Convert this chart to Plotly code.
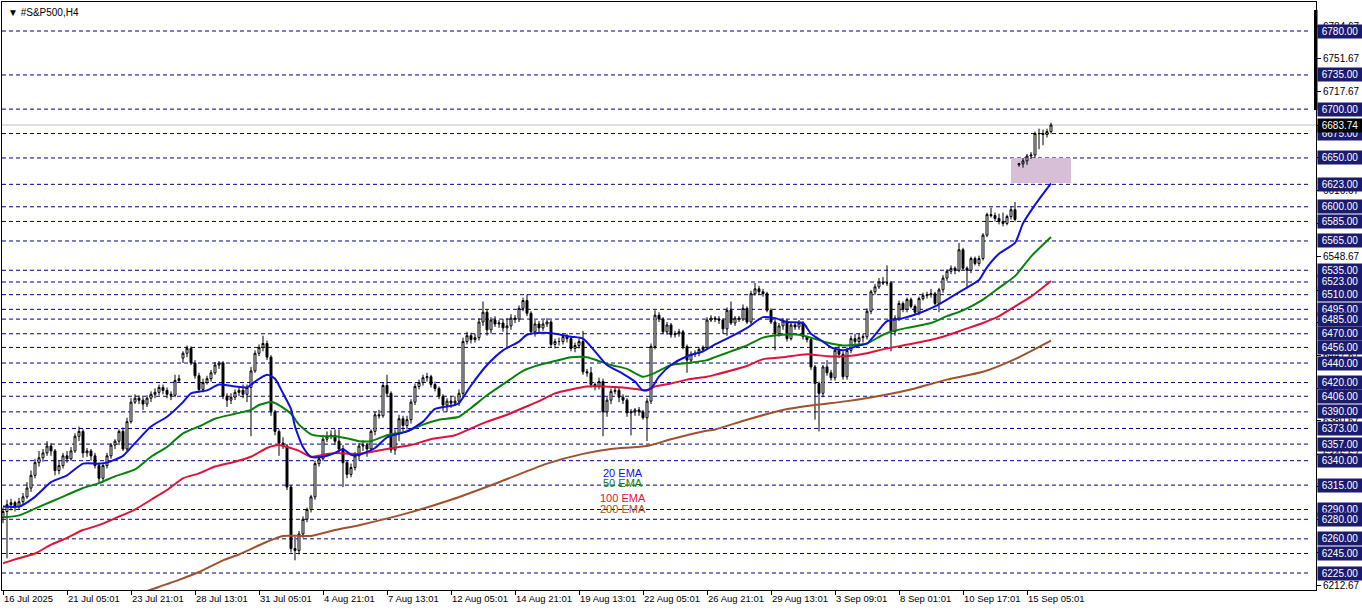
import plotly.graph_objects as go

# ---------------- data ----------------
opens = [6282, 6288, 6295, 6297, 6293, 6298, 6303, 6312, 6325, 6338,
         6343, 6348, 6355, 6350, 6330, 6335, 6345, 6342, 6350, 6365,
         6370, 6348, 6350, 6345, 6335, 6322, 6335, 6345, 6356, 6360,
         6370, 6352, 6380, 6400, 6404, 6402, 6398, 6404, 6408, 6410,
         6415, 6412, 6408, 6407, 6422, 6445, 6450, 6455, 6440, 6427,
         6413, 6420, 6424, 6430, 6438, 6440, 6406, 6402, 6405, 6410,
         6412, 6408, 6415, 6432, 6450, 6456, 6460, 6446, 6390, 6370,
         6358, 6355, 6313, 6250, 6248, 6265, 6280, 6290, 6303, 6337,
         6342, 6362, 6365, 6366, 6360, 6352, 6338, 6326, 6333, 6345,
         6355, 6356, 6352, 6370, 6387, 6386, 6417, 6409, 6351, 6368,
         6383, 6376, 6382, 6400, 6416, 6420, 6425, 6426, 6418, 6414,
         6406, 6397, 6401, 6399, 6401, 6409, 6462, 6468, 6464, 6466,
         6482, 6492, 6474, 6484, 6480, 6481, 6476, 6478, 6486, 6485,
         6496, 6504, 6491, 6472, 6480, 6476, 6480, 6482, 6459, 6462,
         6462, 6467, 6465, 6455, 6458, 6462, 6431, 6430, 6418, 6416,
         6421, 6390, 6402, 6411, 6412, 6405, 6402, 6389, 6390, 6392,
         6390, 6384, 6401, 6457, 6489, 6485, 6472, 6479, 6469, 6470,
         6472, 6457, 6443, 6449, 6450, 6454, 6456, 6484, 6486, 6485,
         6484, 6475, 6494, 6481, 6486, 6485, 6496, 6482, 6511, 6516,
         6513, 6511, 6494, 6482, 6470, 6478, 6483, 6465, 6479, 6477,
         6481, 6467, 6464, 6436, 6419, 6409, 6436, 6430, 6425, 6453,
         6449, 6426, 6453, 6465, 6462, 6466, 6467, 6493, 6513, 6518,
         6523, 6522, 6522, 6472, 6486, 6501, 6495, 6505, 6498, 6492,
         6506, 6509, 6510, 6511, 6501, 6515, 6527, 6534, 6537, 6535,
         6556, 6537, 6535, 6547, 6542, 6547, 6571, 6592, 6591, 6588,
         6585, 6583, 6590, 6597, 6643, 6644, 6647, 6652, 6653, 6675,
         6675, 6674, 6677]

highs = [6292, 6300, 6301, 6299, 6302, 6307, 6318, 6330, 6342, 6350,
         6352, 6360, 6358, 6352, 6340, 6348, 6350, 6354, 6368, 6375,
         6372, 6353, 6352, 6348, 6338, 6338, 6348, 6358, 6362, 6372,
         6374, 6384, 6404, 6408, 6407, 6405, 6407, 6411, 6414, 6418,
         6418, 6415, 6411, 6428, 6428, 6452, 6458, 6457, 6443, 6430,
         6424, 6427, 6433, 6441, 6442, 6442, 6409, 6409, 6413, 6415,
         6418, 6418, 6436, 6453, 6459, 6468, 6463, 6448, 6392, 6372,
         6364, 6357, 6315, 6262, 6268, 6283, 6292, 6305, 6340, 6345,
         6366, 6370, 6371, 6372, 6372, 6356, 6340, 6337, 6349, 6358,
         6361, 6358, 6372, 6390, 6392, 6420, 6428, 6411, 6372, 6387,
         6386, 6386, 6403, 6419, 6423, 6428, 6430, 6428, 6421, 6416,
         6408, 6404, 6406, 6406, 6413, 6466, 6472, 6471, 6470, 6486,
         6503, 6495, 6487, 6488, 6484, 6485, 6486, 6490, 6489, 6499,
         6507, 6510, 6493, 6484, 6483, 6484, 6486, 6484, 6465, 6466,
         6470, 6470, 6467, 6461, 6465, 6473, 6434, 6436, 6420, 6425,
         6424, 6405, 6414, 6416, 6415, 6408, 6404, 6393, 6394, 6395,
         6392, 6404, 6460, 6494, 6492, 6487, 6482, 6481, 6473, 6475,
         6474, 6459, 6452, 6453, 6456, 6458, 6487, 6489, 6488, 6488,
         6486, 6497, 6503, 6488, 6488, 6500, 6498, 6514, 6522, 6519,
         6516, 6513, 6496, 6484, 6481, 6486, 6485, 6482, 6481, 6484,
         6483, 6468, 6466, 6438, 6421, 6438, 6443, 6433, 6456, 6458,
         6452, 6456, 6468, 6470, 6470, 6470, 6496, 6515, 6521, 6527,
         6528, 6540, 6524, 6489, 6504, 6503, 6507, 6507, 6500, 6508,
         6512, 6513, 6516, 6513, 6517, 6530, 6536, 6540, 6539, 6563,
         6558, 6539, 6549, 6549, 6550, 6573, 6594, 6599, 6594, 6593,
         6594, 6592, 6600, 6605, 6645, 6650, 6654, 6656, 6677, 6680,
         6679, 6680, 6686]

lows = [6276, 6240, 6289, 6288, 6290, 6295, 6301, 6308, 6322, 6334,
        6339, 6345, 6345, 6325, 6326, 6332, 6338, 6340, 6348, 6360,
        6343, 6344, 6340, 6332, 6318, 6318, 6332, 6342, 6352, 6356,
        6350, 6350, 6378, 6398, 6398, 6392, 6395, 6400, 6404, 6407,
        6408, 6404, 6402, 6405, 6420, 6440, 6446, 6438, 6424, 6410,
        6410, 6418, 6421, 6428, 6434, 6403, 6395, 6398, 6402, 6406,
        6404, 6400, 6365, 6430, 6447, 6452, 6443, 6386, 6366, 6345,
        6352, 6310, 6246, 6238, 6244, 6261, 6277, 6287, 6300, 6334,
        6340, 6359, 6362, 6356, 6348, 6313, 6322, 6323, 6330, 6340,
        6350, 6344, 6350, 6366, 6383, 6384, 6405, 6348, 6346, 6360,
        6370, 6372, 6378, 6397, 6413, 6417, 6421, 6415, 6411, 6403,
        6391, 6390, 6394, 6396, 6396, 6405, 6459, 6460, 6461, 6463,
        6478, 6468, 6470, 6477, 6476, 6472, 6455, 6474, 6481, 6482,
        6493, 6488, 6469, 6467, 6470, 6473, 6477, 6456, 6455, 6458,
        6459, 6461, 6452, 6451, 6455, 6428, 6426, 6415, 6412, 6413,
        6365, 6385, 6398, 6408, 6400, 6398, 6385, 6366, 6386, 6386,
        6382, 6360, 6398, 6454, 6482, 6470, 6469, 6466, 6466, 6467,
        6454, 6430, 6440, 6446, 6447, 6451, 6454, 6482, 6482, 6480,
        6470, 6468, 6479, 6478, 6482, 6483, 6480, 6480, 6509, 6510,
        6508, 6492, 6480, 6453, 6467, 6474, 6462, 6463, 6474, 6474,
        6464, 6461, 6433, 6382, 6370, 6405, 6427, 6422, 6422, 6445,
        6423, 6423, 6450, 6458, 6459, 6461, 6464, 6490, 6510, 6516,
        6520, 6519, 6452, 6468, 6483, 6492, 6492, 6496, 6489, 6489,
        6504, 6506, 6507, 6499, 6492, 6512, 6524, 6531, 6531, 6533,
        6535, 6518, 6532, 6540, 6539, 6545, 6569, 6589, 6585, 6582,
        6580, 6581, 6587, 6585, 6641, 6640, 6643, 6649, 6650, 6659,
        6663, 6671, 6675]

closes = [6288, 6295, 6297, 6293, 6298, 6303, 6312, 6325, 6338, 6343,
          6348, 6355, 6350, 6330, 6335, 6345, 6342, 6350, 6365, 6370,
          6348, 6350, 6345, 6335, 6322, 6335, 6345, 6356, 6360, 6370,
          6352, 6380, 6400, 6404, 6402, 6398, 6404, 6408, 6410, 6415,
          6412, 6408, 6407, 6422, 6424, 6450, 6455, 6440, 6427, 6413,
          6420, 6424, 6430, 6438, 6440, 6406, 6402, 6405, 6410, 6412,
          6408, 6415, 6432, 6450, 6456, 6460, 6446, 6390, 6370, 6358,
          6355, 6313, 6250, 6248, 6265, 6280, 6290, 6303, 6337, 6342,
          6362, 6365, 6366, 6360, 6352, 6338, 6326, 6333, 6345, 6355,
          6356, 6352, 6370, 6387, 6386, 6417, 6409, 6351, 6368, 6383,
          6376, 6382, 6400, 6416, 6420, 6425, 6426, 6418, 6414, 6406,
          6397, 6401, 6399, 6401, 6409, 6462, 6468, 6464, 6466, 6482,
          6492, 6474, 6484, 6480, 6481, 6476, 6478, 6486, 6485, 6496,
          6504, 6491, 6472, 6480, 6476, 6480, 6482, 6459, 6462, 6462,
          6467, 6465, 6455, 6458, 6462, 6431, 6430, 6418, 6416, 6421,
          6390, 6402, 6411, 6412, 6405, 6402, 6389, 6390, 6392, 6390,
          6384, 6401, 6457, 6489, 6485, 6472, 6479, 6469, 6470, 6472,
          6457, 6443, 6449, 6450, 6454, 6456, 6484, 6486, 6485, 6484,
          6475, 6494, 6481, 6486, 6485, 6496, 6482, 6511, 6516, 6513,
          6511, 6494, 6482, 6470, 6478, 6483, 6465, 6479, 6477, 6481,
          6467, 6464, 6436, 6419, 6409, 6436, 6430, 6425, 6453, 6449,
          6426, 6453, 6465, 6462, 6466, 6467, 6493, 6513, 6518, 6523,
          6522, 6522, 6472, 6486, 6501, 6495, 6505, 6498, 6492, 6506,
          6509, 6510, 6511, 6501, 6515, 6527, 6534, 6537, 6535, 6556,
          6537, 6535, 6547, 6542, 6547, 6571, 6592, 6591, 6588, 6585,
          6583, 6590, 6597, 6587, 6644, 6647, 6652, 6653, 6675, 6675,
          6674, 6677, 6683.74]

bars = list(range(len(closes)))

x_tick_bars = [0, 16, 32, 48, 64, 80, 96, 112, 128, 144, 160, 176, 192, 208, 224, 240, 256]
x_tick_labels = ["16 Jul 2025", "21 Jul 05:01", "23 Jul 21:01", "28 Jul 13:01", "31 Jul 05:01",
                 "4 Aug 21:01", "7 Aug 13:01", "12 Aug 05:01", "14 Aug 21:01", "19 Aug 13:01",
                 "22 Aug 05:01", "26 Aug 21:01", "29 Aug 13:01", "3 Sep 09:01", "8 Sep 01:01",
                 "10 Sep 17:01", "15 Sep 05:01"]

price_ticks = [6784.67, 6751.67, 6717.67, 6683.67, 6650.67, 6616.67, 6582.67, 6548.67, 6514.67,
               6481.67, 6447.67, 6413.67, 6380.67, 6346.67, 6313.67, 6279.67, 6245.67, 6212.67]

levels = [6780, 6735, 6700, 6675, 6650, 6623, 6600, 6585, 6565, 6535, 6523, 6510, 6495, 6485,
          6470, 6456, 6440, 6420, 6406, 6390, 6373, 6357, 6340, 6315, 6290, 6280, 6260, 6245, 6225]

current_price = 6683.74
zone_bars = [252, 267]
zone_prices = [6624.4, 6650]

ema20_bars = [0, 4, 8, 12, 16, 20, 24, 26, 30, 33, 37, 41, 45, 47, 51, 54, 58, 61, 63, 66, 68, 70,
              72, 73, 75, 77, 80, 83, 85, 87, 89, 93, 96, 101, 105, 108, 113, 114, 117, 121, 125,
              129, 131, 135, 138, 142, 145, 148, 151, 155, 158, 160, 162, 164, 167, 171, 175, 178,
              182, 186, 190, 193, 196, 200, 202, 205, 207, 210, 214, 216, 220, 221, 225, 229, 233,
              236, 240, 244, 246, 249, 253, 255, 258, 262]
ema20_vals = [6293, 6293, 6303, 6318, 6325, 6337, 6337, 6338, 6345, 6358, 6375, 6385, 6400, 6409,
              6412, 6418, 6416, 6415, 6421, 6428, 6424, 6409, 6393, 6375, 6354, 6344, 6344, 6348,
              6352, 6346, 6346, 6353, 6364, 6370, 6380, 6393, 6397, 6399, 6417, 6438, 6453, 6462,
              6469, 6471, 6470, 6467, 6465, 6452, 6438, 6429, 6421, 6412, 6414, 6426, 6438, 6447,
              6452, 6459, 6467, 6476, 6487, 6486, 6482, 6481, 6470, 6462, 6456, 6453, 6458, 6460,
              6479, 6483, 6486, 6491, 6498, 6505, 6515, 6525, 6538, 6552, 6563, 6583, 6602, 6624]

ema50_bars = [0, 4, 8, 12, 16, 20, 24, 28, 33, 37, 41, 45, 49, 53, 58, 62, 64, 67, 69, 72, 74, 77,
              80, 83, 87, 89, 92, 96, 101, 105, 109, 114, 117, 121, 126, 130, 134, 138, 142, 146,
              149, 152, 156, 160, 163, 167, 171, 176, 178, 182, 186, 190, 195, 199, 202, 206, 210,
              214, 216, 220, 222, 226, 232, 236, 240, 245, 249, 253, 257, 262]
ema50_vals = [6282, 6284, 6291, 6298, 6305, 6312, 6317, 6324, 6331, 6344, 6354, 6368, 6375, 6383,
              6388, 6392, 6397, 6400, 6397, 6388, 6377, 6367, 6365, 6365, 6362, 6360, 6360, 6366,
              6370, 6377, 6382, 6385, 6394, 6407, 6421, 6432, 6438, 6442, 6446, 6446, 6442, 6438,
              6434, 6426, 6430, 6438, 6440, 6443, 6446, 6452, 6458, 6466, 6469, 6469, 6466, 6461,
              6458, 6459, 6460, 6469, 6472, 6476, 6481, 6488, 6494, 6505, 6517, 6529, 6549, 6569]

ema100_bars = [0, 3, 8, 12, 16, 20, 24, 28, 33, 37, 41, 45, 49, 53, 58, 62, 66, 69, 71, 74, 77,
               80, 83, 87, 89, 96, 102, 107, 113, 117, 121, 126, 130, 134, 138, 142, 146, 150,
               155, 159, 161, 163, 167, 171, 176, 178, 186, 190, 195, 201, 206, 211, 216, 220,
               225, 230, 235, 240, 245, 249, 253, 257, 262]
ema100_vals = [6235, 6239, 6245, 6254, 6261, 6269, 6274, 6281, 6290, 6300, 6310, 6322, 6327, 6334,
               6339, 6344, 6353, 6356, 6354, 6350, 6344, 6346, 6348, 6347, 6347, 6352, 6356, 6362,
               6366, 6373, 6380, 6387, 6394, 6401, 6409, 6413, 6416, 6416, 6415, 6413, 6412, 6416,
               6419, 6423, 6426, 6428, 6437, 6444, 6446, 6449, 6447, 6447, 6450, 6454, 6458, 6462,
               6467, 6474, 6481, 6488, 6498, 6508, 6524]

ema200_bars = [30, 37, 44, 49, 55, 59, 66, 70, 77, 83, 89, 100, 112, 124, 136, 145, 152, 161, 167,
               175, 178, 186, 195, 203, 211, 220, 228, 236, 245, 253, 262]
ema200_vals = [6198, 6208, 6218, 6226, 6238, 6244, 6257, 6263, 6263, 6269, 6274, 6285, 6300, 6318,
               6337, 6347, 6352, 6355, 6362, 6370, 6372, 6382, 6392, 6397, 6401, 6407, 6414, 6423,
               6431, 6444, 6463]

ema_labels = ["20 EMA", "50 EMA", "100 EMA", "200 EMA"]
ema_label_prices = [6327, 6317, 6302, 6291]
ema_colors = ["#1010D8", "#0A800A", "#DC143C", "#A0522D"]

# ---------------- figure ----------------
FONT = "Liberation Sans, Arial, sans-serif"
fig = go.Figure()

fig.add_trace(go.Candlestick(
    x=bars, open=opens, high=highs, low=lows, close=closes,
    increasing=dict(line=dict(color="black", width=1), fillcolor="white"),
    decreasing=dict(line=dict(color="black", width=1), fillcolor="black"),
    whiskerwidth=0, hoverinfo="skip", showlegend=False))

for bx, vals, col in [(ema200_bars, ema200_vals, ema_colors[3]),
                      (ema100_bars, ema100_vals, ema_colors[2]),
                      (ema50_bars, ema50_vals, ema_colors[1]),
                      (ema20_bars, ema20_vals, ema_colors[0])]:
    fig.add_trace(go.Scatter(x=bx, y=vals, mode="lines",
                             line=dict(color=col, width=2, shape="spline", smoothing=0.6),
                             hoverinfo="skip", showlegend=False))

shapes = []
# zone rectangle
shapes.append(dict(type="rect", xref="x", yref="y", x0=zone_bars[0], x1=zone_bars[1],
                   y0=zone_prices[0], y1=zone_prices[1], fillcolor="#D8BFD8",
                   line=dict(width=0), layer="below"))
# dashed levels
for lv in levels:
    shapes.append(dict(type="line", xref="paper", yref="y", x0=0, x1=0.996, y0=lv, y1=lv,
                       line=dict(color="#000080", width=1, dash="4px,3px"), layer="below"))
# current price line
shapes.append(dict(type="line", xref="paper", yref="y", x0=0, x1=1, y0=current_price,
                   y1=current_price, line=dict(color="#C0C0C0", width=1), layer="below"))
# thick marker on the price scale
shapes.append(dict(type="rect", xref="paper", yref="y", xsizemode="pixel", xanchor=1,
                   x0=-2, x1=1.5, y0=6699, y1=6801.5, fillcolor="black",
                   line=dict(width=0), layer="above"))

annotations = []
for lv in sorted(levels, reverse=True):
    annotations.append(dict(xref="paper", yref="y", x=1, y=lv, xanchor="left", yanchor="middle",
                            xshift=1, text=f"{lv:.2f}", showarrow=False, width=42, height=11,
                            bgcolor="#1B1B6E", borderpad=1,
                            font=dict(family=FONT, size=10, color="white")))
annotations.append(dict(xref="paper", yref="y", x=1, y=current_price, xanchor="left",
                        yanchor="middle", xshift=1, text=f"{current_price:.2f}", showarrow=False,
                        width=42, height=11, bgcolor="black", borderpad=1,
                        font=dict(family=FONT, size=10, color="white")))
for txt, pr, col in zip(ema_labels, ema_label_prices, ema_colors):
    annotations.append(dict(xref="x", yref="y", x=155, y=pr, text=txt, showarrow=False,
                            xanchor="center", yanchor="middle",
                            font=dict(family=FONT, size=11, color=col)))
annotations.append(dict(xref="paper", yref="paper", x=0, y=1, xanchor="left", yanchor="top",
                        xshift=4, yshift=-3, text="▼ #S&P500,H4", showarrow=False,
                        font=dict(family=FONT, size=10, color="black")))

fig.update_layout(
    width=1362, height=611,
    margin=dict(l=2, r=46, t=2, b=21, autoexpand=False),
    paper_bgcolor="white", plot_bgcolor="white",
    shapes=shapes, annotations=annotations,
    showlegend=False,
    xaxis=dict(range=[-0.25, 328.25], rangeslider=dict(visible=False),
               tickmode="array", tickvals=x_tick_bars, ticktext=x_tick_labels,
               ticks="outside", ticklen=4, tickcolor="black", tickangle=0,
               ticklabelposition="outside right", automargin=False,
               tickfont=dict(family=FONT, size=9.5, color="black"),
               showgrid=False, zeroline=False, showline=True, linecolor="black",
               linewidth=1, mirror=True, fixedrange=True),
    yaxis=dict(range=[6207.6, 6809.7], side="right", automargin=False,
               tickmode="array", tickvals=price_ticks,
               ticktext=[f"{v:.2f}" for v in price_ticks],
               ticks="outside", ticklen=4, tickcolor="black",
               tickfont=dict(family=FONT, size=10, color="black"),
               showgrid=False, zeroline=False, showline=True, linecolor="black",
               linewidth=1, mirror=True, fixedrange=True),
)

fig.write_html("out.html", config={"displayModeBar": False},
               post_script="document.body.style.margin='0';document.body.style.overflow='hidden';")
